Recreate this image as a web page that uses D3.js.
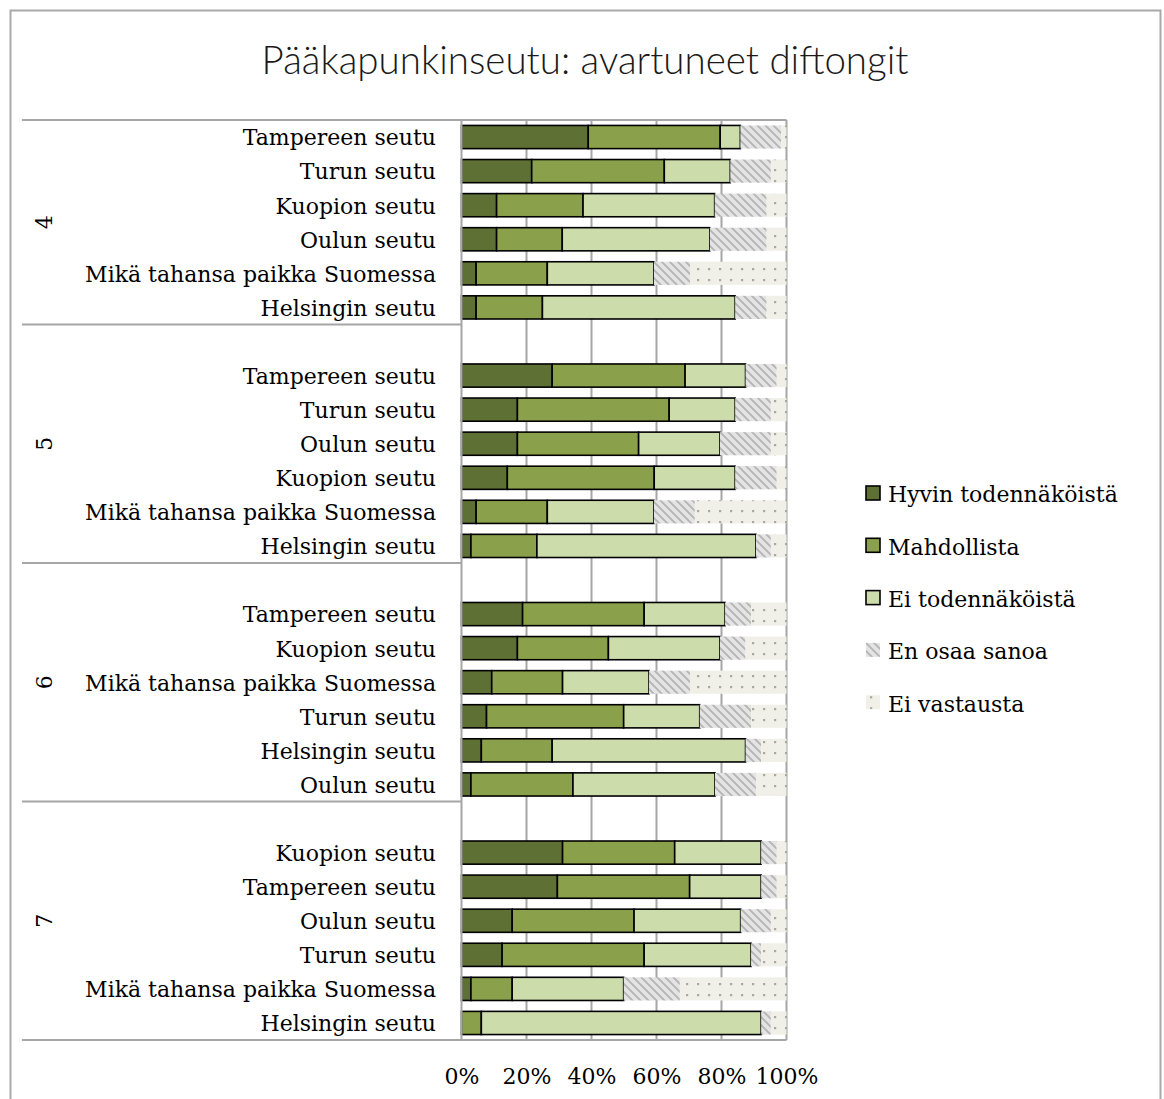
<!DOCTYPE html>
<html>
<head>
<meta charset="utf-8">
<script src="https://cdn.jsdelivr.net/npm/d3@7"></script>
<style>
  html, body { margin: 0; padding: 0; background: #fff; }
  svg { display: block; }
</style>
</head>
<body>
<svg id="chart" width="1164" height="1099"></svg>
<script>
// ---------------- DATA ----------------
const title = "Pääkapunkinseutu: avartuneet diftongit";
const seriesNames = ["Hyvin todennäköistä", "Mahdollista", "Ei todennäköistä", "En osaa sanoa", "Ei vastausta"];
const groups = ["4", "5", "6", "7"];

const group4 = ["Tampereen seutu", "Turun seutu", "Kuopion seutu", "Oulun seutu", "Mikä tahansa paikka Suomessa", "Helsingin seutu"];
const group5 = ["Tampereen seutu", "Turun seutu", "Oulun seutu", "Kuopion seutu", "Mikä tahansa paikka Suomessa", "Helsingin seutu"];
const group6 = ["Tampereen seutu", "Kuopion seutu", "Mikä tahansa paikka Suomessa", "Turun seutu", "Helsingin seutu", "Oulun seutu"];
const group7 = ["Kuopion seutu", "Tampereen seutu", "Oulun seutu", "Turun seutu", "Mikä tahansa paikka Suomessa", "Helsingin seutu"];

// values (%) per series, rows in order group4, group5, group6, group7 (top to bottom)
const hyvin = [39.0, 21.6, 10.8, 10.8, 4.5, 4.5,
               27.9, 17.2, 17.2, 14.1, 4.5, 2.9,
               18.8, 17.2, 9.3, 7.7, 6.1, 2.9,
               31.1, 29.5, 15.6, 12.5, 2.9, 0.0];
const mahdollista = [40.6, 40.8, 26.6, 20.2, 21.9, 20.4,
                     40.9, 46.7, 37.3, 45.2, 21.9, 20.3,
                     37.4, 28.0, 21.8, 42.2, 21.8, 31.4,
                     34.5, 40.7, 37.5, 43.7, 12.7, 6.1];
const eiTod = [6.2, 20.3, 40.5, 45.4, 32.8, 59.3,
               18.6, 20.3, 25.0, 24.9, 32.8, 67.4,
               24.9, 34.3, 26.6, 23.4, 59.5, 43.7,
               26.6, 22.0, 32.8, 32.9, 34.3, 86.1];
const enOsaa = [12.5, 12.5, 16.0, 17.5, 11.1, 9.7,
                9.6, 11.0, 15.7, 12.8, 12.6, 4.6,
                8.0, 7.9, 12.6, 15.8, 4.8, 12.6,
                4.8, 4.8, 9.3, 3.1, 17.3, 3.0];
const eiVast = [1.7, 4.8, 6.1, 6.1, 29.7, 6.1,
                3.0, 4.8, 4.8, 3.0, 28.2, 4.8,
                10.9, 12.6, 29.7, 10.9, 7.8, 9.4,
                3.0, 3.0, 4.8, 7.8, 32.8, 4.8];
const tickValues = [0, 20, 40, 60, 80, 100];

// ---------------- BUILD ROWS ----------------
const groupCats = [group4, group5, group6, group7];
const seriesArrays = [hyvin, mahdollista, eiTod, enOsaa, eiVast];
const slots = []; // includes blank slots at group starts (except first)
const rows = [];
let k = 0;
groupCats.forEach((cats, gi) => {
  if (gi > 0) slots.push({ id: "blank-" + gi, group: gi, blank: true });
  cats.forEach((c, ci) => {
    const r = { id: gi + "-" + ci, group: gi, label: c, blank: false };
    seriesNames.forEach((s, si) => r[s] = seriesArrays[si][k]);
    k++;
    slots.push(r);
    rows.push(r);
  });
});

// ---------------- LAYOUT ----------------
const svg = d3.select("#chart");
const plot = { left: 461.5, right: 786.5, top: 120, bottom: 1040 };
const x = d3.scaleLinear().domain([0, 100]).range([plot.left, plot.right]);
const y = d3.scaleBand().domain(slots.map(d => d.id))
  .range([plot.top, plot.bottom]).paddingInner(0.32).paddingOuter(0.16);

const colors = ["#5f7035", "#8aa04b", "#cddcab"];
const serif = "'DejaVu Serif', 'Liberation Serif', serif";
const fs = 22;

// patterns
const defs = svg.append("defs");
const hatch = defs.append("pattern").attr("id", "hatch").attr("patternUnits", "userSpaceOnUse")
  .attr("width", 8).attr("height", 8);
hatch.append("rect").attr("width", 8).attr("height", 8).attr("fill", "#e4e4e4");
hatch.append("path").attr("d", "M-2,-2 L10,10 M-2,6 L2,10 M6,-2 L10,2")
  .attr("stroke", "#b4b4b4").attr("stroke-width", 1.8);
const dots = defs.append("pattern").attr("id", "dots").attr("patternUnits", "userSpaceOnUse")
  .attr("width", 11).attr("height", 11);
dots.append("rect").attr("width", 11).attr("height", 11).attr("fill", "#f1f0e8");
dots.append("rect").attr("x", 4).attr("y", 4).attr("width", 2.2).attr("height", 2.2).attr("fill", "#a8a89e");
const fills = [colors[0], colors[1], colors[2], "url(#hatch)", "url(#dots)"];

// outer border
svg.append("rect").attr("x", 10.5).attr("y", 10.5).attr("width", 1150).attr("height", 1120)
  .attr("fill", "#fff").attr("stroke", "#a9a9a9").attr("stroke-width", 2);

// title
svg.append("text").attr("x", 585).attr("y", 74).attr("text-anchor", "middle")
  .attr("font-family", "Lato, 'Open Sans', sans-serif").attr("font-weight", 300)
  .attr("font-size", 38.5).attr("fill", "#1a1a1a").text(title);

// gridlines
svg.append("g").selectAll("line").data(tickValues.slice(1)).join("line")
  .attr("x1", d => x(d)).attr("x2", d => x(d))
  .attr("y1", plot.top).attr("y2", plot.bottom)
  .attr("stroke", "#a6a6a6").attr("stroke-width", 2);

// bars
const stack = d3.stack().keys(seriesNames);
const stacked = stack(rows);
const barG = svg.append("g");
stacked.forEach((layer, si) => {
  barG.append("g").selectAll("rect").data(layer.filter(d => d[1] - d[0] > 0)).join("rect")
    .attr("x", d => x(d[0]))
    .attr("y", d => y(d.data.id))
    .attr("width", d => x(d[1]) - x(d[0]))
    .attr("height", y.bandwidth())
    .attr("fill", fills[si])
    .attr("stroke", si < 3 ? "#000" : "none")
    .attr("stroke-width", si < 3 ? 1.6 : 0);
});

// plot frame (top, bottom lines extend into category axis)
const step = y.step();
const groupBounds = [plot.top];
groupCats.forEach((cats, gi) => {
  const last = slots.filter(s => s.group === gi);
  const lastSlot = last[last.length - 1];
  groupBounds.push(y(lastSlot.id) - y.paddingInner() * step / 2 + step);
});
groupBounds[groupBounds.length - 1] = plot.bottom;

svg.append("g").selectAll("line").data(groupBounds).join("line")
  .attr("x1", 22).attr("x2", (d, i) => (i === 0 || i === groupBounds.length - 1) ? plot.right : plot.left)
  .attr("y1", d => d).attr("y2", d => d)
  .attr("stroke", "#a6a6a6").attr("stroke-width", 2);

// y axis line
svg.append("line").attr("x1", plot.left).attr("x2", plot.left)
  .attr("y1", plot.top).attr("y2", plot.bottom).attr("stroke", "#a6a6a6").attr("stroke-width", 2);

// category labels
svg.append("g").selectAll("text").data(rows).join("text")
  .attr("x", 436).attr("y", d => y(d.id) + y.bandwidth() / 2)
  .attr("dy", "0.38em").attr("text-anchor", "end")
  .attr("font-family", serif).attr("font-size", fs).attr("fill", "#000")
  .text(d => d.label);

// group labels
svg.append("g").selectAll("text").data(groups).join("text")
  .attr("transform", (d, i) => `translate(44,${(groupBounds[i] + groupBounds[i + 1]) / 2}) rotate(-90)`)
  .attr("text-anchor", "middle").attr("dy", "0.35em")
  .attr("font-family", serif).attr("font-size", fs).attr("fill", "#000")
  .text(d => d);

// x axis labels
const xAxis = d3.axisBottom(x).tickValues(tickValues).tickFormat(d => d + "%").tickSize(0).tickPadding(0);
const xg = svg.append("g").attr("transform", `translate(0,1068)`).call(xAxis);
xg.select(".domain").remove();
xg.selectAll("text").attr("font-family", serif).attr("font-size", fs).attr("fill", "#000");

// legend
const legend = svg.append("g").attr("transform", "translate(866,494)");
seriesNames.forEach((s, i) => {
  const g = legend.append("g").attr("transform", `translate(0,${i * 52.3})`);
  g.append("rect").attr("x", 0).attr("y", -8).attr("width", 14).attr("height", 14)
    .attr("fill", fills[i]).attr("stroke", i < 3 ? "#000" : "none").attr("stroke-width", 1.6);
  g.append("text").attr("x", 22).attr("y", 0).attr("dy", "0.38em")
    .attr("font-family", serif).attr("font-size", fs).attr("fill", "#000").text(s);
});
</script>
</body>
</html>
